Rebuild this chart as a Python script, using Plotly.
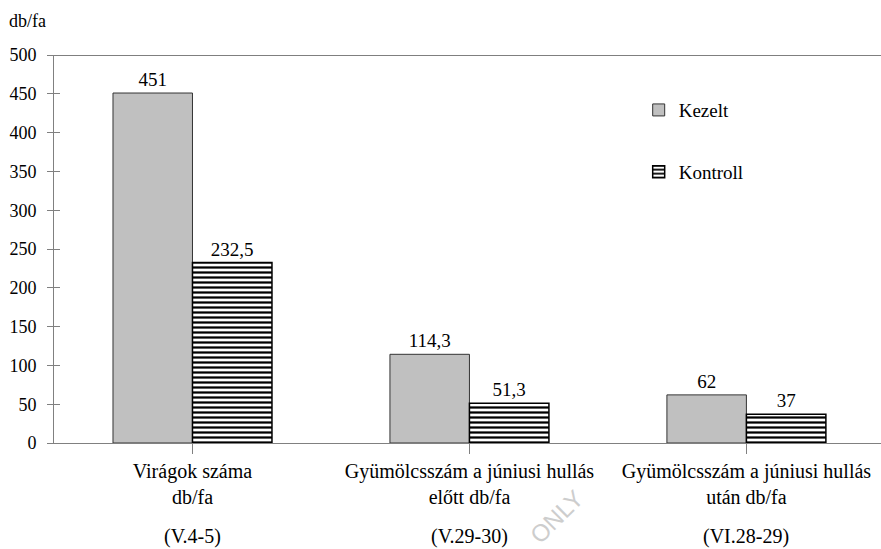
import plotly.graph_objects as go

# Category labels (two text lines + sampling date)
categories = ["Virágok száma<br>db/fa",
              "Gyümölcsszám a júniusi hullás<br>előtt db/fa",
              "Gyümölcsszám a júniusi hullás<br>után db/fa"]
dates = ["(V.4-5)", "(V.29-30)", "(VI.28-29)"]

kezelt = [451, 114.3, 62]
kontroll = [232.5, 51.3, 37]

y_ticks = [0, 50, 100, 150, 200, 250, 300, 350, 400, 450, 500]

FONT = "Liberation Serif"


def hu(v):
    return f"{v:g}".replace(".", ",")


x_idx = list(range(len(categories)))

fig = go.Figure()
fig.add_trace(go.Bar(
    name="Kezelt", x=x_idx, y=kezelt,
    text=[hu(v) for v in kezelt], textposition="outside",
    textfont=dict(size=19, color="black", family=FONT),
    marker=dict(color="#c0c0c0", line=dict(color="#333333", width=1)),
    cliponaxis=False, legendgroup="a",
))
fig.add_trace(go.Bar(
    name="Kontroll", x=x_idx, y=kontroll,
    text=[hu(v) for v in kontroll], textposition="outside",
    textfont=dict(size=19, color="black", family=FONT),
    marker=dict(color="white", line=dict(color="black", width=1.5),
                pattern=dict(shape="-", fgcolor="black", bgcolor="white",
                             size=5, solidity=0.45, fillmode="replace")),
    cliponaxis=False, legendgroup="b",
))

# Top frame line at the axis maximum
fig.add_shape(type="line", xref="paper", yref="y", x0=0, x1=1,
              y0=y_ticks[-1], y1=y_ticks[-1], line=dict(color="black", width=1))

# Sampling dates under the category labels
for i, d in zip(x_idx, dates):
    fig.add_annotation(x=i, xref="x", y=-0.242, yref="paper", text=d,
                       showarrow=False, xanchor="center", yanchor="middle",
                       font=dict(size=20, color="black", family=FONT))

# Axis unit
fig.add_annotation(x=0, xref="paper", xshift=-47, y=1, yref="paper",
                   yshift=34, text="db/fa", showarrow=False,
                   xanchor="left", yanchor="middle",
                   font=dict(size=18, color="black", family=FONT))

fig.add_annotation(x=0.608, xref="paper", y=-0.19, yref="paper", text="ONLY",
                   showarrow=False, textangle=-45,
                   xanchor="center", yanchor="middle",
                   font=dict(size=24, color="rgb(205,205,205)", family="Liberation Sans"))

fig.update_layout(
    width=881, height=549,
    margin=dict(l=54, r=0, t=55, b=106),
    paper_bgcolor="white", plot_bgcolor="white",
    barmode="group", bargap=0.426, bargroupgap=0,
    font=dict(family=FONT, size=18, color="black"),
    legend=dict(x=0.707, y=0.907, xanchor="left", yanchor="top",
                bgcolor="rgba(0,0,0,0)", tracegroupgap=34,
                font=dict(size=19, family=FONT, color="black")),
    xaxis=dict(tickmode="array", tickvals=x_idx, ticktext=categories,
               range=[-0.5, 2.486], showline=True, linecolor="#808080",
               linewidth=1, ticks="outside", tickson="boundaries",
               ticklen=10, tickcolor="#808080", showgrid=False,
               tickfont=dict(size=20, family=FONT, color="black")),
    yaxis=dict(range=[0, 500], tickvals=y_ticks, showline=True,
               linecolor="#808080", linewidth=1, ticks="outside",
               ticklen=6, tickcolor="#808080", showgrid=False,
               ticklabelstandoff=7,
               zeroline=False, tickfont=dict(size=18, family=FONT, color="black")),
    yaxis2=dict(range=[0, 500], tickvals=y_ticks, overlaying="y",
                side="left", ticks="inside", ticklen=6, tickcolor="#808080",
                showticklabels=False, showgrid=False, zeroline=False,
                showline=False),
)
# Inside tick marks need a trace bound to the overlay axis
fig.add_trace(go.Scatter(x=[0], y=[0], yaxis="y2", mode="markers",
                         marker=dict(opacity=0), showlegend=False,
                         hoverinfo="skip"))

fig.write_html("out.html")
